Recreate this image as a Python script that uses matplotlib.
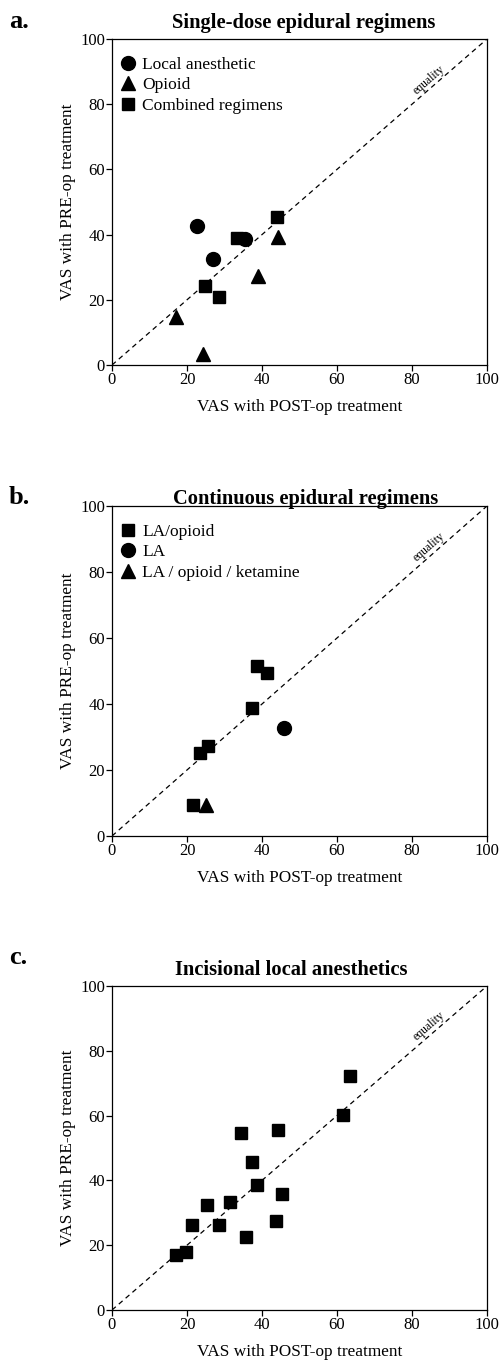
import matplotlib
matplotlib.use("Agg")
import matplotlib.pyplot as plt

plt.rcParams['font.family'] = ['Liberation Serif', 'DejaVu Serif']

# --- data ---
# a. single-dose epidural regimens
a_la_post = [22.7, 27.0, 35.5]
a_la_pre = [42.5, 32.6, 38.7]
a_opioid_post = [44.2, 39.0, 17.1, 24.3]
a_opioid_pre = [39.2, 27.2, 14.7, 3.4]
a_comb_post = [33.2, 44.1, 24.9, 28.4]
a_comb_pre = [39.0, 45.4, 24.1, 20.8]

# b. continuous epidural regimens
b_laop_post = [37.3, 23.5, 25.5, 21.5, 38.7, 41.3]
b_laop_pre = [38.7, 25.1, 27.3, 9.4, 51.5, 49.5]
b_la_post = [45.8]
b_la_pre = [32.8]
b_ket_post = [25.1]
b_ket_pre = [9.4]

# c. incisional local anesthetics
c_post = [63.4, 61.6, 34.4, 44.2, 37.3, 38.6, 45.4, 25.3, 31.5,
          21.4, 28.5, 43.7, 35.6, 19.7, 17.0]
c_pre = [72.2, 60.1, 54.7, 55.6, 45.8, 38.7, 35.7, 32.3, 33.2,
         26.2, 26.2, 27.6, 22.4, 18.0, 17.0]

ticks = [0, 20, 40, 60, 80, 100]
W, H = 499, 1361


def setup(ax):
    ax.set_xlim(0, 100)
    ax.set_ylim(0, 100)
    ax.set_xticks(ticks)
    ax.set_yticks(ticks)
    ax.tick_params(direction='out', length=4, width=0.9, labelsize=12, pad=1)
    for s in ax.spines.values():
        s.set_linewidth(0.9)
    ax.plot([0, 100], [0, 100], color='black', lw=0.9, dashes=(4, 3.2))
    ax.text(84.5, 87.5, 'equality', rotation=41, fontsize=8.5,
            ha='center', va='center')
    ax.set_xlabel('VAS with POST-op treatment', fontsize=12.4, labelpad=8)
    ax.set_ylabel('VAS with PRE-op treatment', fontsize=12.4, labelpad=3)


def leg(ax):
    ax.legend(loc='upper left', bbox_to_anchor=(0, 0.972), frameon=False,
              fontsize=12.5, handlelength=0.8, handletextpad=0.45,
              labelspacing=0.24, borderaxespad=0.2, borderpad=0.3)


fig = plt.figure(figsize=(W / 100, H / 100), dpi=100)

panels = [(39, 365), (506, 836), (986, 1310)]
axes = []
for top, bot in panels:
    ax = fig.add_axes([112 / W, 1 - bot / H, 375 / W, (bot - top) / H])
    setup(ax)
    axes.append(ax)

ax = axes[0]
ax.plot(a_la_post, a_la_pre, 'o', color='black', ms=10, label='Local anesthetic')
ax.plot(a_opioid_post, a_opioid_pre, '^', color='black', ms=10, label='Opioid')
ax.plot(a_comb_post, a_comb_pre, 's', color='black', ms=8.3, label='Combined regimens')
leg(ax)

ax = axes[1]
ax.plot(b_laop_post, b_laop_pre, 's', color='black', ms=8.3, label='LA/opioid')
ax.plot(b_la_post, b_la_pre, 'o', color='black', ms=10, label='LA')
ax.plot(b_ket_post, b_ket_pre, '^', color='black', ms=10, label='LA / opioid / ketamine')
leg(ax)

ax = axes[2]
ax.plot(c_post, c_pre, 's', color='black', ms=8.3)

titles = ['Single-dose epidural regimens', 'Continuous epidural regimens',
          'Incisional local anesthetics']
letters = ['a.', 'b.', 'c.']
title_pos = [(304, 23), (306, 499), (291, 970)]
letter_pos = [(9, 22), (9, 498), (9, 957)]
for t, (x, y) in zip(titles, title_pos):
    fig.text(x / W, 1 - y / H, t, ha='center', va='center',
             fontsize=14.8, fontweight='bold')
for t, (x, y) in zip(letters, letter_pos):
    fig.text(x / W, 1 - y / H, t, ha='left', va='center',
             fontsize=19, fontweight='bold')

fig.savefig('out.png', dpi=100)
